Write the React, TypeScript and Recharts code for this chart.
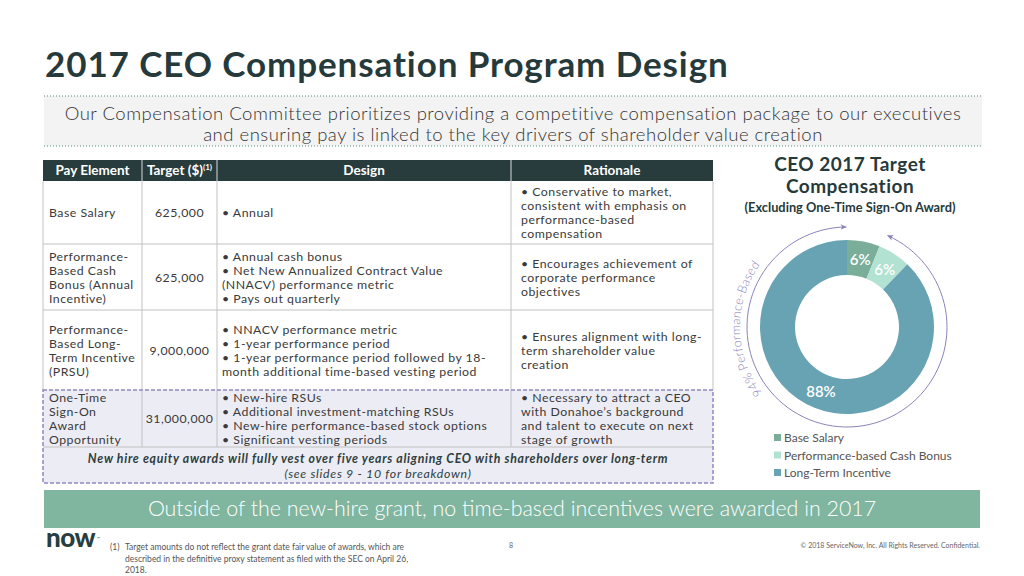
import React from 'react';
import { PieChart, Pie, Cell } from 'recharts';

// ---------- data ----------
const categories = ['Base Salary', 'Performance-based Cash Bonus', 'Long-Term Incentive'];
const targetValues = [625000, 625000, 9000000];
const sliceColors = ['#7aae9a', '#b2e2d2', '#67a3b3'];
const arcLabel = '94% Performance-Based';

const headers = ['Pay Element', 'Target ($)', 'Design', 'Rationale'];
const payElements = [
  ['Base Salary'],
  ['Performance-', 'Based Cash', 'Bonus (Annual', 'Incentive)'],
  ['Performance-', 'Based Long-', 'Term Incentive', '(PRSU)'],
  ['One-Time', 'Sign-On', 'Award', 'Opportunity'],
];
const targets = ['625,000', '625,000', '9,000,000', '31,000,000'];
const designs = [
  ['• Annual'],
  ['• Annual cash bonus', '• Net New Annualized Contract Value', '(NNACV) performance metric', '• Pays out quarterly'],
  ['• NNACV performance metric', '• 1-year performance period', '• 1-year performance period followed by 18-', 'month additional time-based vesting period'],
  ['• New-hire RSUs', '• Additional investment-matching RSUs', '• New-hire performance-based stock options', '• Significant vesting periods'],
];
const rationales = [
  ['• Conservative to market,', 'consistent with emphasis on', 'performance-based', 'compensation'],
  ['• Encourages achievement of', 'corporate performance', 'objectives'],
  ['• Ensures alignment with long-', 'term shareholder value', 'creation'],
  ['• Necessary to attract a CEO', 'with Donahoe’s background', 'and talent to execute on next', 'stage of growth'],
];
const noteLines = [
  'New hire equity awards will fully vest over five years aligning CEO with shareholders over long-term',
  '(see slides 9 - 10 for breakdown)',
];
const subtitleLines = [
  'Our Compensation Committee prioritizes providing a competitive compensation package to our executives',
  'and ensuring pay is linked to the key drivers of shareholder value creation',
];
const chartTitleLines = ['CEO 2017 Target', 'Compensation', '(Excluding One-Time Sign-On Award)'];
const bannerText = 'Outside of the new-hire grant, no time-based incentives were awarded in 2017';
const footnoteLines = [
  'Target amounts do not reflect the grant date fair value of awards, which are',
  'described in the definitive proxy statement as filed with the SEC on April 26,',
  '2018.',
];

const pieData = categories.map((name, i) => ({ name, value: targetValues[i] }));

// ---------- layout ----------
const FONT = 'Lato, "Open Sans", sans-serif';
const DARK = '#263a3c';
const GRID = '#c2c2c2';
const colX = [43, 142, 217, 511, 713];
const rowY = [160, 181, 244, 310, 390, 447, 483];
const LH = 14;
const FS = 12.3;
const LS = 0.5;

const PIE_LEFT = 697;
const PIE_TOP = 177;
const PIE_SIZE = 300;
const C = PIE_SIZE / 2;

function block(arr: string[], x: number, yc: number, anchor: 'start' | 'middle', extra: any = {}) {
  const first = yc - ((arr.length - 1) * LH) / 2 + FS * 0.38;
  return (
    <text x={x} y={first} textAnchor={anchor} fontSize={FS} letterSpacing={LS} fill="#3a3a3a" {...extra}>
      {arr.map((t, i) => (
        <tspan key={i} x={x} dy={i === 0 ? 0 : LH}>{t}</tspan>
      ))}
    </text>
  );
}

const renderLabel = (props: any) => {
  const { cx, cy, midAngle, innerRadius, outerRadius, percent } = props;
  const r = (innerRadius + outerRadius) / 2;
  const rad = Math.PI / 180;
  const x = cx + r * Math.cos(-midAngle * rad);
  const y = cy + r * Math.sin(-midAngle * rad);
  return (
    <text x={x} y={y} fill="#ffffff" textAnchor="middle" dominantBaseline="central" fontSize={15} fontWeight={600} fontFamily={FONT}>
      {`${Math.round(percent * 100)}%`}
    </text>
  );
};

function polar(r: number, deg: number) {
  const a = (deg * Math.PI) / 180;
  return [C + r * Math.sin(a), C - r * Math.cos(a)];
}

export default function App() {
  const [ax, ay] = polar(100, 24);
  const [bx, by] = polar(100, 359.5);
  const [tx1, ty1] = polar(107, 232);
  const [tx2, ty2] = polar(107, 322);

  return (
    <div style={{ position: 'fixed', left: 0, top: 0, width: 1024, height: 576, background: '#fff', overflow: 'hidden', fontFamily: FONT }}>
      <svg width={1024} height={576} style={{ position: 'absolute', left: 0, top: 0 }} fontFamily={FONT}>
        {/* title */}
        <text x={45} y={77} fontSize={35} fontWeight={700} fill={DARK} letterSpacing={0.9}>2017 CEO Compensation Program Design</text>

        {/* subtitle box */}
        <rect x={44} y={96} width={938} height={50} fill="#f3f3f3" />
        <line x1={44} x2={982} y1={96} y2={96} stroke="#86b3a4" strokeWidth={1.5} strokeDasharray="1 2" />
        <line x1={44} x2={982} y1={146} y2={146} stroke="#86b3a4" strokeWidth={1.5} strokeDasharray="1 2" />
        <text x={513} y={120} textAnchor="middle" fontSize={18.5} fontWeight={300} fill="#333" letterSpacing={0.5}>
          {subtitleLines.map((t, i) => (
            <tspan key={i} x={513} dy={i === 0 ? 0 : 21}>{t}</tspan>
          ))}
        </text>

        {/* table header */}
        <rect x={colX[0]} y={rowY[0]} width={colX[4] - colX[0]} height={rowY[1] - rowY[0]} fill="#283c3d" />
        {[1, 2, 3].map((i) => (
          <line key={'hs' + i} x1={colX[i]} x2={colX[i]} y1={rowY[0]} y2={rowY[1]} stroke="#d8d8d8" strokeWidth={1} />
        ))}
        {headers.map((h, i) => (
          <text key={'h' + i} x={(colX[i] + colX[i + 1]) / 2} y={175} textAnchor="middle" fontSize={13.5} fontWeight={700} fill="#fff">
            {h}
            {i === 1 ? <tspan fontSize={8} dy={-5}>(1)</tspan> : null}
          </text>
        ))}

        {/* sign-on rows background */}
        <rect x={colX[0]} y={rowY[4]} width={colX[4] - colX[0]} height={rowY[6] - rowY[4]} fill="#ececf4" />

        {/* grid lines */}
        {[0, 4].map((i) => (
          <line key={'ov' + i} x1={colX[i]} x2={colX[i]} y1={rowY[1]} y2={rowY[4]} stroke={GRID} />
        ))}
        {[1, 2, 3].map((i) => (
          <line key={'iv' + i} x1={colX[i]} x2={colX[i]} y1={rowY[1]} y2={rowY[5]} stroke={GRID} />
        ))}
        {[2, 3, 5].map((i) => (
          <line key={'hl' + i} x1={colX[0]} x2={colX[4]} y1={rowY[i]} y2={rowY[i]} stroke={GRID} />
        ))}
        <rect x={colX[0]} y={rowY[4]} width={colX[4] - colX[0]} height={rowY[6] - rowY[4]} fill="none" stroke="#8f88c2" strokeWidth={1.5} strokeDasharray="4 2" />

        {/* table body */}
        {payElements.map((arr, r) => {
          const yc = (rowY[r + 1] + rowY[r + 2]) / 2;
          return (
            <g key={'row' + r}>
              {block(arr, colX[0] + 6, yc, 'start')}
              {block([targets[r]], (colX[1] + colX[2]) / 2, yc, 'middle')}
              {block(designs[r], colX[2] + 5, yc, 'start')}
              {block(rationales[r], colX[3] + 10, yc, 'start')}
            </g>
          );
        })}
        <text x={378} y={463} textAnchor="middle" fontSize={12.3} fontStyle="italic" fill="#2e3e40" letterSpacing={0.7}>
          <tspan x={378} fontWeight={700}>{noteLines[0]}</tspan>
          <tspan x={378} dy={14.5}>{noteLines[1]}</tspan>
        </text>

        {/* banner */}
        <rect x={44} y={490} width={936} height={38} fill="#80b59f" />
        <text x={512} y={516} textAnchor="middle" fontSize={21.4} fontWeight={300} fill="#fff">{bannerText}</text>

        {/* footer */}
        <text x={46} y={547} fontSize={26} fontWeight={900} fill="#293e40" letterSpacing={-0.5}>now</text>
        <text x={97} y={540} fontSize={4} fill="#293e40">™</text>
        <text x={110} y={550} fontSize={8.5} fill="#555">(1)</text>
        <text x={125} y={550} fontSize={8.5} fill="#555">
          {footnoteLines.map((t, i) => (
            <tspan key={i} x={125} dy={i === 0 ? 0 : 11.5}>{t}</tspan>
          ))}
        </text>
        <text x={509} y={548} fontSize={7} fill="#666">8</text>
        <text x={980} y={548} textAnchor="end" fontSize={7} fill="#666">© 2018 ServiceNow, Inc. All Rights Reserved. Confidential.</text>

        {/* donut title */}
        <text x={850} y={171} textAnchor="middle" fontWeight={700} fill={DARK}>
          <tspan x={850} fontSize={19} letterSpacing={0.5}>{chartTitleLines[0]}</tspan>
          <tspan x={850} dy={22} fontSize={19} letterSpacing={0.5}>{chartTitleLines[1]}</tspan>
          <tspan x={850} dy={19} fontSize={12.8}>{chartTitleLines[2]}</tspan>
        </text>

        {/* legend */}
        {categories.map((c, i) => (
          <g key={'lg' + i}>
            <rect x={774} y={434 + i * 17.5} width={7} height={7} fill={sliceColors[i]} />
            <text x={784} y={442 + i * 17.5} fontSize={12} fill="#555">{c}</text>
          </g>
        ))}
      </svg>

      <div style={{ position: 'absolute', left: PIE_LEFT, top: PIE_TOP, width: PIE_SIZE, height: PIE_SIZE }}>
        <PieChart width={PIE_SIZE} height={PIE_SIZE} margin={{ top: 0, right: 0, bottom: 0, left: 0 }}>
          <Pie
            data={pieData}
            dataKey="value"
            nameKey="name"
            cx={C}
            cy={C}
            innerRadius={52}
            outerRadius={87}
            startAngle={90}
            endAngle={-270}
            stroke="none"
            label={renderLabel}
            labelLine={false}
            isAnimationActive={false}
          >
            {pieData.map((d, i) => (
              <Cell key={d.name} fill={sliceColors[i]} />
            ))}
          </Pie>
        </PieChart>
        <svg width={PIE_SIZE} height={PIE_SIZE} style={{ position: 'absolute', left: 0, top: 0, pointerEvents: 'none' }}>
          <defs>
            <marker id="arr" viewBox="0 0 10 10" refX="8" refY="5" markerWidth="7" markerHeight="7" orient="auto-start-reverse">
              <path d="M0,1 L9,5 L0,9 L2.5,5 Z" fill="#8a84bd" />
            </marker>
            <path id="arcText" d={`M${tx1},${ty1} A107,107 0 0 1 ${tx2},${ty2}`} fill="none" />
          </defs>
          <path d={`M${ax},${ay} A100,100 0 1 1 ${bx},${by}`} fill="none" stroke="#8a84bd" strokeWidth={1} markerStart="url(#arr)" markerEnd="url(#arr)" />
          <text fontSize={12.5} fontWeight={300} fill="#8a84bd" fontFamily={FONT} letterSpacing={0.2}>
            <textPath href="#arcText">{arcLabel}</textPath>
          </text>
        </svg>
      </div>
    </div>
  );
}
